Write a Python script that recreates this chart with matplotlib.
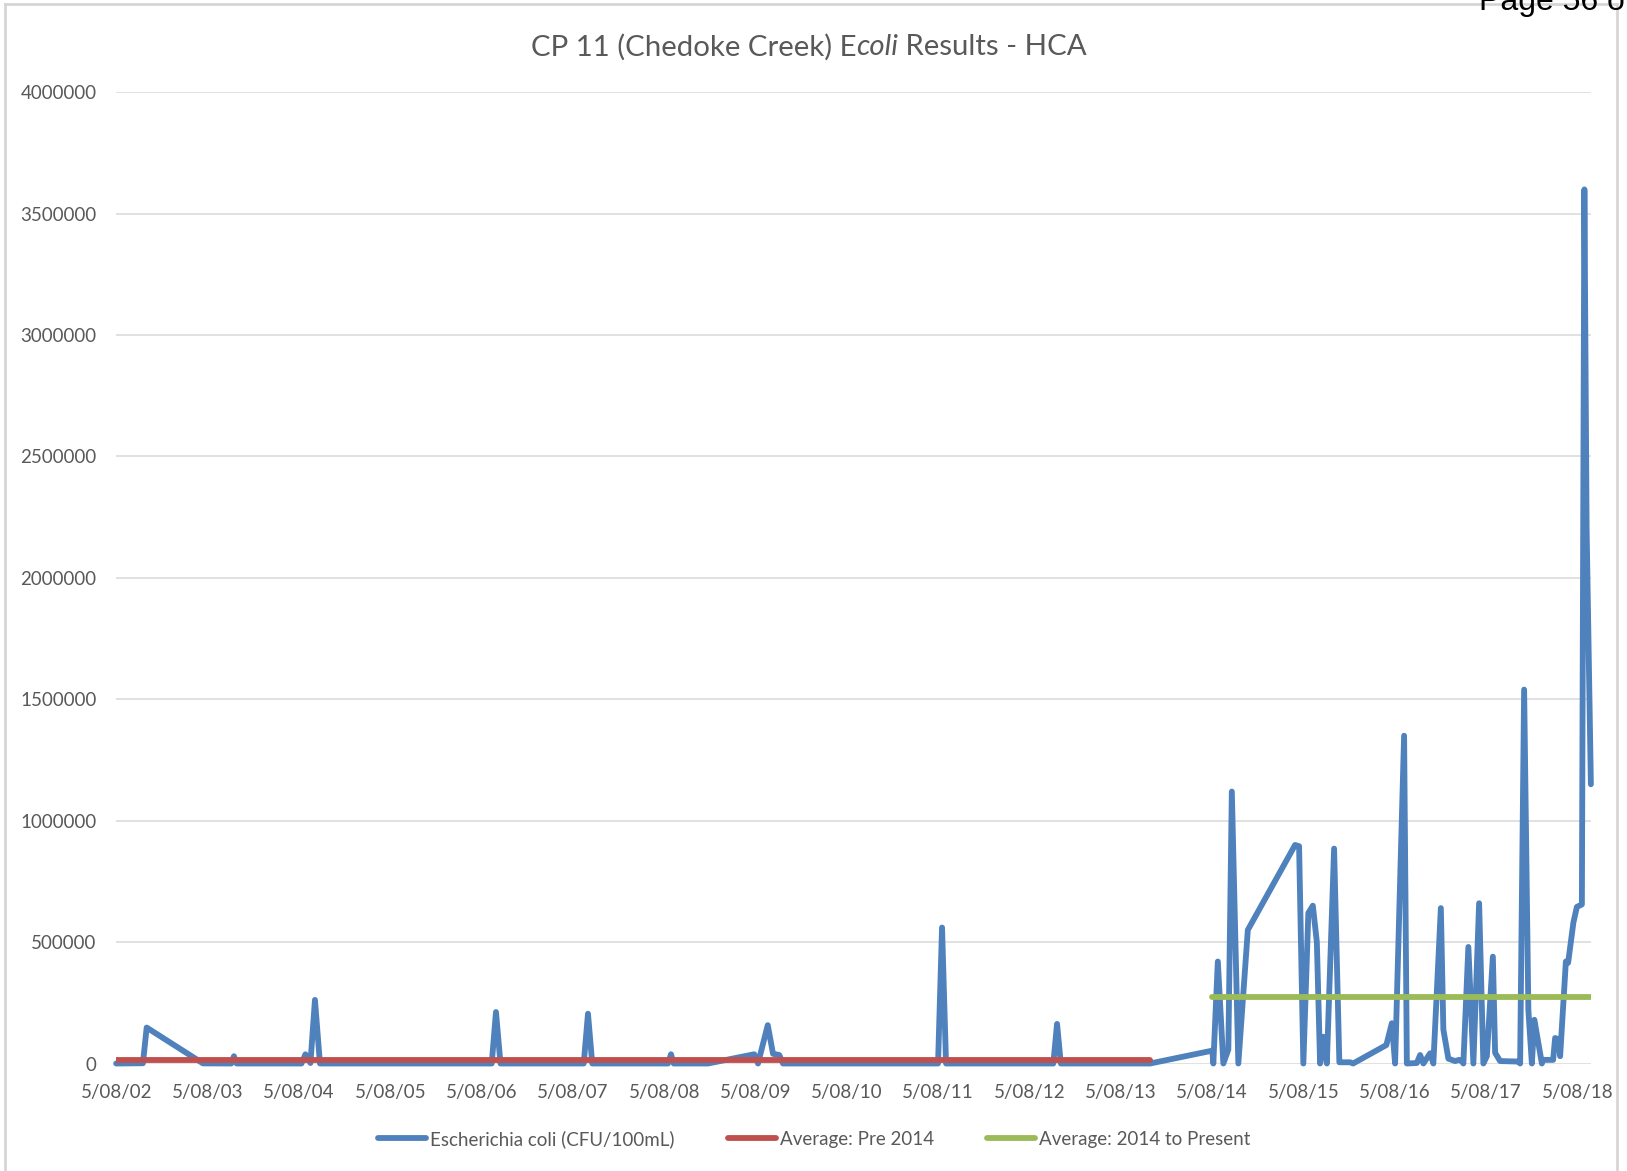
import datetime as dt
import matplotlib
matplotlib.use("Agg")
import matplotlib.pyplot as plt
import matplotlib.dates as mdates
from matplotlib.lines import Line2D
from matplotlib.ticker import FuncFormatter, MultipleLocator

# E. coli samples (CFU/100mL)
sample_dates = [
    "2002-08-05", "2002-11-20", "2002-12-05", "2003-07-18", "2003-11-08", "2003-11-19",
    "2003-11-30", "2004-08-15", "2004-08-31", "2004-09-20", "2004-10-08", "2004-10-28",
    "2006-09-15", "2006-10-02", "2006-10-20", "2007-09-18", "2007-10-05", "2007-10-22",
    "2008-08-20", "2008-09-01", "2008-09-12", "2009-01-27", "2009-07-31", "2009-08-15",
    "2009-09-23", "2009-10-14", "2009-11-08", "2009-11-23", "2011-08-05", "2011-08-21",
    "2011-09-06", "2012-11-08", "2012-11-23", "2012-12-08", "2013-11-30",
    "2014-08-06", "2014-08-10", "2014-08-28", "2014-09-19", "2014-10-09", "2014-10-23",
    "2014-11-18", "2014-12-26", "2015-07-03", "2015-07-19", "2015-08-05", "2015-08-25",
    "2015-09-12", "2015-09-28", "2015-10-11", "2015-10-24", "2015-11-07", "2015-12-06",
    "2015-12-27", "2016-02-08", "2016-02-20", "2016-07-02", "2016-07-24", "2016-08-06",
    "2016-09-11", "2016-09-22", "2016-11-01", "2016-11-14", "2016-11-27", "2016-12-24",
    "2017-01-06", "2017-02-05", "2017-02-15", "2017-03-07", "2017-04-03", "2017-04-19",
    "2017-05-01", "2017-05-06", "2017-05-26", "2017-06-15", "2017-07-08", "2017-07-25",
    "2017-08-08", "2017-09-01", "2017-09-10", "2017-09-30", "2017-12-12", "2017-12-19",
    "2018-01-04", "2018-01-21", "2018-02-04", "2018-02-14", "2018-03-16", "2018-03-21",
    "2018-04-30", "2018-05-08", "2018-05-21", "2018-05-28", "2018-06-20", "2018-06-29",
    "2018-07-20", "2018-08-03", "2018-08-23", "2018-09-02", "2018-09-11", "2018-09-28",
]
ecoli = [
    0, 1000, 148000, 500, 0, 30000,
    0, 0, 38000, 2000, 262000, 0,
    0, 212000, 0, 0, 205000, 0,
    0, 38000, 0, 0, 38000, 0,
    158000, 40000, 35000, 0, 0, 560000,
    0, 0, 163000, 0, 0,
    53000, 0, 420000, 0, 57000, 1120000,
    0, 550000, 900000, 895000, 0, 620000,
    650000, 500000, 0, 110000, 0, 885000,
    5000, 5000, 0, 76000, 166000, 0,
    1350000, 0, 2000, 35000, 0, 42000,
    0, 640000, 140000, 20000, 10000, 15000,
    8000, 0, 480000, 0, 660000, 0,
    30000, 440000, 44000, 10000, 8000, 0,
    1540000, 220000, 0, 180000, 0, 15000,
    15000, 105000, 100000, 30000, 420000, 415000,
    580000, 645000, 655000, 3600000, 2200000, 1150000,
]

avg_pre_2014 = 15000
avg_pre_dates = ["2002-08-05", "2013-11-30"]
avg_post_2014 = 273000
avg_post_dates = ["2014-08-06", "2018-09-28"]

tick_years = list(range(2002, 2019))
series_names = ["Escherichia coli (CFU/100mL)", "Average: Pre 2014", "Average: 2014 to Present"]

BLUE = "#4F81BD"
RED = "#C0504D"
GREEN = "#9BBB59"
TXT = "#595959"
FONT = ["Lato", "DejaVu Sans"]

plt.rcParams["font.family"] = FONT


def to_dt(s):
    return dt.datetime.strptime(s, "%Y-%m-%d")


x = [to_dt(s) for s in sample_dates]

fig = plt.figure(figsize=(16.27, 11.71), dpi=100)
ax = fig.add_axes([0.0714, 0.0918, 0.9064, 0.8294])

lw = 4.2
ax.plot(x, ecoli, color=BLUE, lw=lw, solid_joinstyle="round", solid_capstyle="round",
        clip_on=False, zorder=3, label=series_names[0])
ax.plot([to_dt(s) for s in avg_pre_dates], [avg_pre_2014] * 2, color=RED, lw=lw,
        solid_capstyle="round", zorder=4, label=series_names[1])
ax.plot([to_dt(s) for s in avg_post_dates], [avg_post_2014] * 2, color=GREEN, lw=lw,
        solid_capstyle="round", zorder=5, label=series_names[2])

ax.set_xlim(x[0], x[-1])
ax.set_ylim(0, 4000000)
ax.yaxis.set_major_locator(MultipleLocator(500000))
ax.yaxis.set_major_formatter(FuncFormatter(lambda v, p: f"{int(v)}"))
ax.set_xticks([dt.datetime(yr, 8, 5) for yr in tick_years])
ax.xaxis.set_major_formatter(FuncFormatter(
    lambda v, p: (lambda d: f"{d.day}/{d.month:02d}/{d.year % 100:02d}")(mdates.num2date(v))))

ax.grid(axis="y", color="#D9D9D9", lw=1.1, zorder=0)
ax.set_axisbelow(True)
for s in ax.spines.values():
    s.set_visible(False)
ax.tick_params(length=0, labelsize=13.5, labelcolor=TXT)
ax.tick_params(axis="y", pad=14)
ax.tick_params(axis="x", pad=15)

fig.legend(loc="center", bbox_to_anchor=(0.5006, 0.0273), ncol=3, frameon=False,
           fontsize=13.5, labelcolor=TXT, handlelength=2.56, handletextpad=0.2,
           columnspacing=2.85)

# title with italic "coli"
renderer = fig.canvas.get_renderer()
parts = [("CP 11 (Chedoke Creek) E", "normal"), ("coli", "italic"), (" Results - HCA", "normal")]
ty = 0.9600
texts = []
for s, st in parts:
    t = fig.text(0, ty, s, fontsize=21.2, color=TXT, style=st, va="center", ha="left")
    texts.append(t)
widths = [t.get_window_extent(renderer).width for t in texts]
total = sum(widths)
xpix = 0.4972 * fig.bbox.width - total / 2
for t, w in zip(texts, widths):
    t.set_x(xpix / fig.bbox.width)
    xpix += w

# outer chart frame
fc = "#D4D4D4"
fig.add_artist(Line2D([0.00307, 0.99367], [0.99658, 0.99658], transform=fig.transFigure, color=fc, lw=1.9))
fig.add_artist(Line2D([0.00307, 0.00307], [0.0, 0.99658], transform=fig.transFigure, color=fc, lw=1.9))
fig.add_artist(Line2D([0.99367, 0.99367], [0.0, 0.99658], transform=fig.transFigure, color=fc, lw=1.9))

# page header cut off at the top edge, as in the scanned page
fig.text(1479 / 1627, 1 - 10.4 / 1171, "Page 56 of", fontsize=23, family=["Liberation Sans", "DejaVu Sans"],
         color="black", va="baseline", ha="left")

fig.savefig("out.png", dpi=100)
